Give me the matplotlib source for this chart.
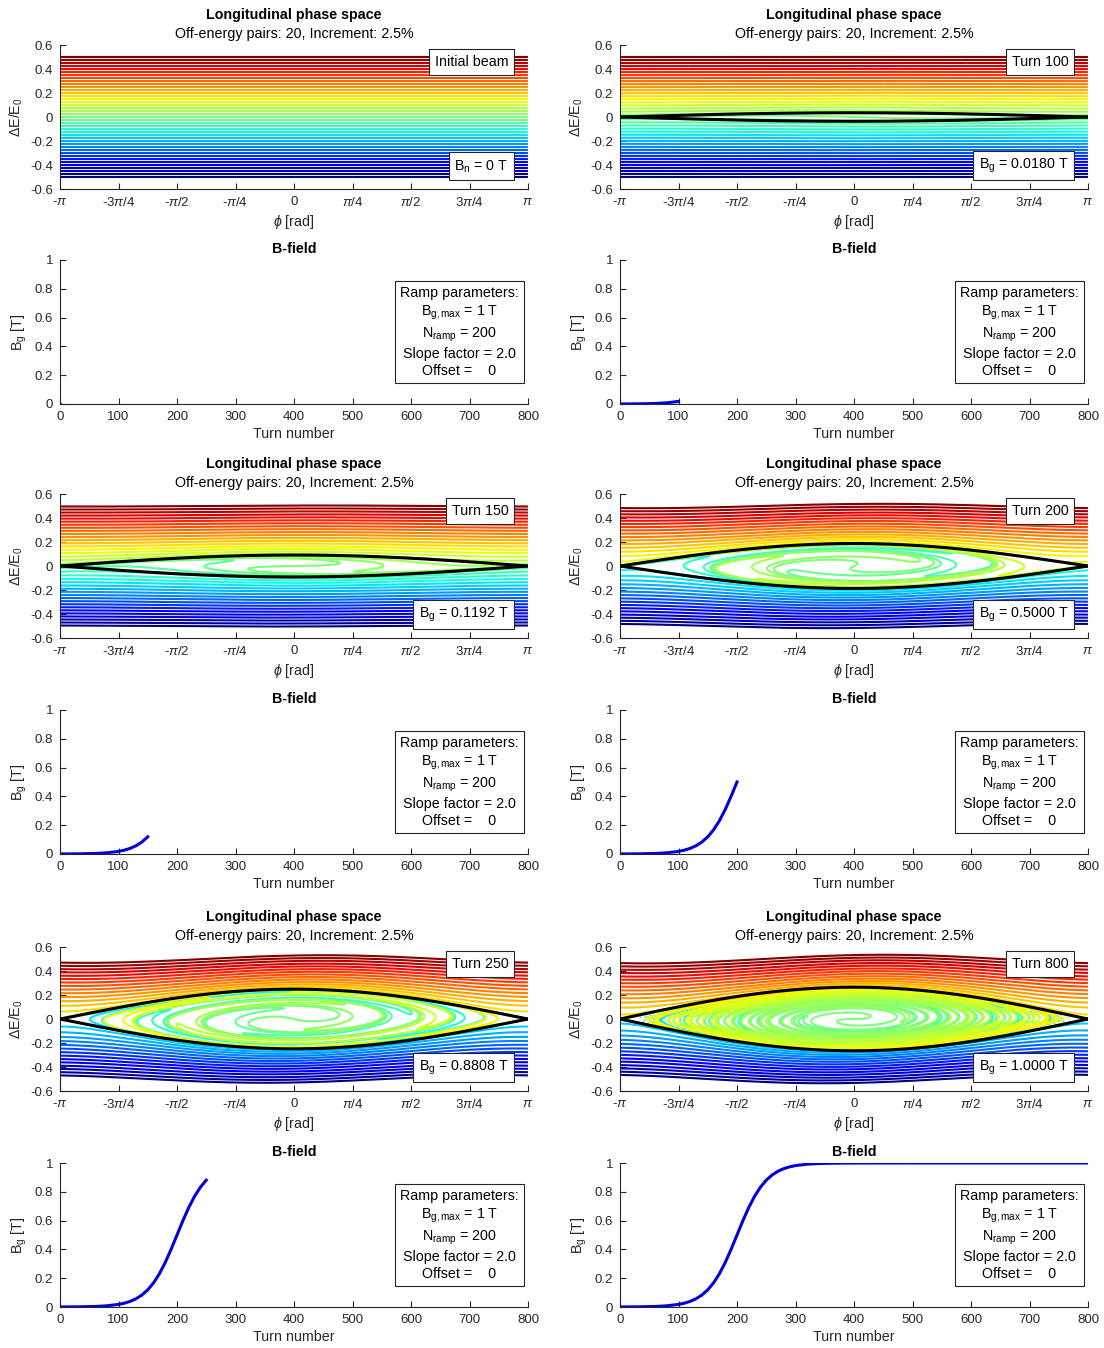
import numpy as np
import matplotlib
matplotlib.use('Agg')
import matplotlib.pyplot as plt

plt.rcParams['font.family'] = ['Liberation Sans', 'DejaVu Sans']
plt.rcParams['mathtext.fontset'] = 'custom'
plt.rcParams['mathtext.rm'] = 'Liberation Sans'
plt.rcParams['mathtext.it'] = 'Liberation Sans:italic'
plt.rcParams['mathtext.bf'] = 'Liberation Sans:bold'
plt.rcParams['axes.unicode_minus'] = False

AX_COL = '#262626'

# 20 off-energy pairs, 2.5 % apart, plus the on-energy line
DE_OFFSETS = [-0.500, -0.475, -0.450, -0.425, -0.400, -0.375, -0.350, -0.325,
              -0.300, -0.275, -0.250, -0.225, -0.200, -0.175, -0.150, -0.125,
              -0.100, -0.075, -0.050, -0.025, 0.000, 0.025, 0.050, 0.075,
              0.100, 0.125, 0.150, 0.175, 0.200, 0.225, 0.250, 0.275,
              0.300, 0.325, 0.350, 0.375, 0.400, 0.425, 0.450, 0.475, 0.500]

# snapshots shown in the figure
SNAP_TURNS = [0, 100, 150, 200, 250, 800]
SNAP_NAMES = ['Initial beam', 'Turn 100', 'Turn 150', 'Turn 200', 'Turn 250', 'Turn 800']
SNAP_BG = [0.0, 0.0180, 0.1192, 0.5000, 0.8808, 1.0000]
SNAP_BG_TEXT = [r'B$_\mathrm{n}$ = 0 T', r'B$_\mathrm{g}$ = 0.0180 T',
                r'B$_\mathrm{g}$ = 0.1192 T', r'B$_\mathrm{g}$ = 0.5000 T',
                r'B$_\mathrm{g}$ = 0.8808 T', r'B$_\mathrm{g}$ = 1.0000 T']

# gap field along the ramp [T] vs turn
RAMP_TURNS = [0, 20, 40, 60, 80, 100, 110, 120, 130, 140, 150, 160, 170, 180,
              190, 200, 210, 220, 230, 240, 250, 260, 270, 280, 290, 300, 320,
              340, 360, 400, 500, 600, 700, 800]
RAMP_BG = [0.0003, 0.0008, 0.0017, 0.0037, 0.0082, 0.0180, 0.0266, 0.0392,
           0.0573, 0.0832, 0.1192, 0.1680, 0.2315, 0.3100, 0.4013, 0.5000,
           0.5987, 0.6900, 0.7685, 0.8320, 0.8808, 0.9168, 0.9427, 0.9608,
           0.9734, 0.9820, 0.9918, 0.9963, 0.9983, 0.9997, 1.0000, 1.0000,
           1.0000, 1.0000]

RAMP_TEXT = ('Ramp parameters:\n'
             r'B$_\mathrm{g,max}$ = 1 T' '\n'
             r'N$_\mathrm{ramp}$ = 200' '\n'
             'Slope factor = 2.0\n'
             'Offset =    0')

BUCKET_HALF = 0.265   # separatrix half-height at B_g = 1 T

# ---------------- tracking (kick / drift map) ----------------
N_PART = 6000
DRIFT = 1.5
KICK = DRIFT * (BUCKET_HALF / 2) ** 2

phi = np.tile(np.linspace(-np.pi, np.pi, N_PART, endpoint=False), (len(DE_OFFSETS), 1))
de = np.repeat(np.array(DE_OFFSETS)[:, None], N_PART, axis=1)
snaps = {0: (phi.copy(), de.copy())}
for n in range(1, max(SNAP_TURNS) + 1):
    bg = np.interp(n, RAMP_TURNS, RAMP_BG)
    de = de - KICK * bg * np.sin(phi)
    phi = (phi + DRIFT * de + np.pi) % (2 * np.pi) - np.pi
    if n in SNAP_TURNS:
        snaps[n] = (phi.copy(), de.copy())


def split(x, y, dx=0.04, dy=0.012):
    """Connect neighbouring particles that stay close; keep the rest as dots."""
    jump = (np.abs(np.diff(x)) > dx) | (np.abs(np.diff(y)) > dy)
    before = np.r_[True, jump]
    after = np.r_[jump, True]
    lone = before & after
    idx = np.where(jump)[0] + 1
    return (np.insert(x, idx, np.nan), np.insert(y, idx, np.nan),
            x[lone], y[lone])


# ---------------- layout ----------------
W, H = 1104, 1348
fig = plt.figure(figsize=(W / 100, H / 100), dpi=100)


def px_axes(x0, top, x1, bottom):
    return fig.add_axes([x0 / W, 1 - bottom / H, (x1 - x0) / W, (bottom - top) / H])


def style(ax):
    for s in ('top', 'right'):
        ax.spines[s].set_visible(False)
    for s in ('left', 'bottom'):
        ax.spines[s].set_color(AX_COL)
        ax.spines[s].set_linewidth(0.8)
    ax.tick_params(direction='in', length=4, width=0.8, colors=AX_COL,
                   labelsize=9.5, pad=5)


def boxed(ax, x, y, s, ha, va, **kw):
    ax.text(x, y, s, transform=ax.transAxes, ha=ha, va=va, fontsize=10.3,
            color='black', zorder=20,
            bbox=dict(boxstyle='square,pad=0.4', fc='white', ec=AX_COL, lw=0.8), **kw)


COLS = [(60, 528), (620, 1088)]
PHASE_TOPS = [45, 494, 947]
B_TOPS = [260, 710, 1163]
AX_H = 144

cmap = plt.get_cmap('jet')
pi_ticks = np.arange(-4, 5) * np.pi / 4
pi_labels = [r'-$\pi$', r'-3$\pi$/4', r'-$\pi$/2', r'-$\pi$/4', '0',
             r'$\pi$/4', r'$\pi$/2', r'3$\pi$/4', r'$\pi$']
sep_x = np.linspace(-np.pi, np.pi, 400)

for k, turn in enumerate(SNAP_TURNS):
    row, col = divmod(k, 2)
    x0, x1 = COLS[col]

    # longitudinal phase space
    ax = px_axes(x0, PHASE_TOPS[row], x1, PHASE_TOPS[row] + AX_H)
    ph, e = snaps[turn]
    for i in range(len(DE_OFFSETS)):
        c = cmap(i / (len(DE_OFFSETS) - 1))
        xs, ys, xd, yd = split(ph[i], e[i])
        ax.plot(xs, ys, '-', lw=1.5, solid_capstyle='butt', color=c)
        if len(xd):
            ax.scatter(xd, yd, s=1.6, color=c, linewidths=0)
    if SNAP_BG[k] > 0:
        h = BUCKET_HALF * np.sqrt(SNAP_BG[k]) * np.cos(sep_x / 2)
        ax.plot(sep_x, h, color='black', lw=2.2, zorder=10)
        ax.plot(sep_x, -h, color='black', lw=2.2, zorder=10)
    ax.set_xlim(-np.pi, np.pi)
    ax.set_ylim(-0.6, 0.6)
    ax.set_xticks(pi_ticks)
    ax.set_xticklabels(pi_labels)
    ax.set_yticks([-0.6, -0.4, -0.2, 0, 0.2, 0.4, 0.6])
    ax.set_yticklabels(['-0.6', '-0.4', '-0.2', '0', '0.2', '0.4', '0.6'])
    style(ax)
    ax.set_xlabel(r'$\phi$ [rad]', fontsize=10.3, color=AX_COL, labelpad=3)
    ax.set_ylabel(r'$\Delta$E/E$_0$', fontsize=10.3, color=AX_COL, labelpad=4)
    ax.annotate('Longitudinal phase space', xy=(0.5, 1), xycoords='axes fraction',
                xytext=(0, 21.5), textcoords='offset points', ha='center',
                va='center', fontsize=10.3, fontweight='bold')
    ax.annotate('Off-energy pairs: 20, Increment: 2.5%', xy=(0.5, 1),
                xycoords='axes fraction', xytext=(0, 8), textcoords='offset points',
                ha='center', va='center', fontsize=10.3, color='black')
    boxed(ax, 0.958, 0.93, SNAP_NAMES[k], 'right', 'top')
    boxed(ax, 0.958, 0.10, SNAP_BG_TEXT[k], 'right', 'bottom')

    # gap field ramp
    bx = px_axes(x0, B_TOPS[row], x1, B_TOPS[row] + AX_H)
    t = np.array(RAMP_TURNS)
    b = np.array(RAMP_BG)
    keep = t <= turn
    if keep.sum() > 1:
        bx.plot(t[keep], b[keep], color='#0000dd', lw=2.2)
    else:
        bx.plot(t[keep], np.zeros(keep.sum()), 'o', color='#0000dd', ms=2.5, mew=0)
    bx.set_xlim(0, 800)
    bx.set_ylim(0, 1)
    bx.set_xticks(np.arange(0, 801, 100))
    bx.set_yticks([0, 0.2, 0.4, 0.6, 0.8, 1])
    bx.set_yticklabels(['0', '0.2', '0.4', '0.6', '0.8', '1'])
    style(bx)
    bx.set_xlabel('Turn number', fontsize=10.3, color=AX_COL, labelpad=3)
    bx.set_ylabel(r'B$_\mathrm{g}$ [T]', fontsize=10.3, color=AX_COL, labelpad=4)
    bx.annotate('B-field', xy=(0.5, 1), xycoords='axes fraction',
                xytext=(0, 8), textcoords='offset points', ha='center',
                va='center', fontsize=10.3, fontweight='bold')
    bx.text(0.853, 0.5, RAMP_TEXT, transform=bx.transAxes, ha='center',
            va='center', multialignment='center', fontsize=10.3, linespacing=1.3,
            bbox=dict(boxstyle='square,pad=0.35', fc='white', ec=AX_COL, lw=0.8))

fig.savefig('out.png', dpi=100, facecolor='white')
